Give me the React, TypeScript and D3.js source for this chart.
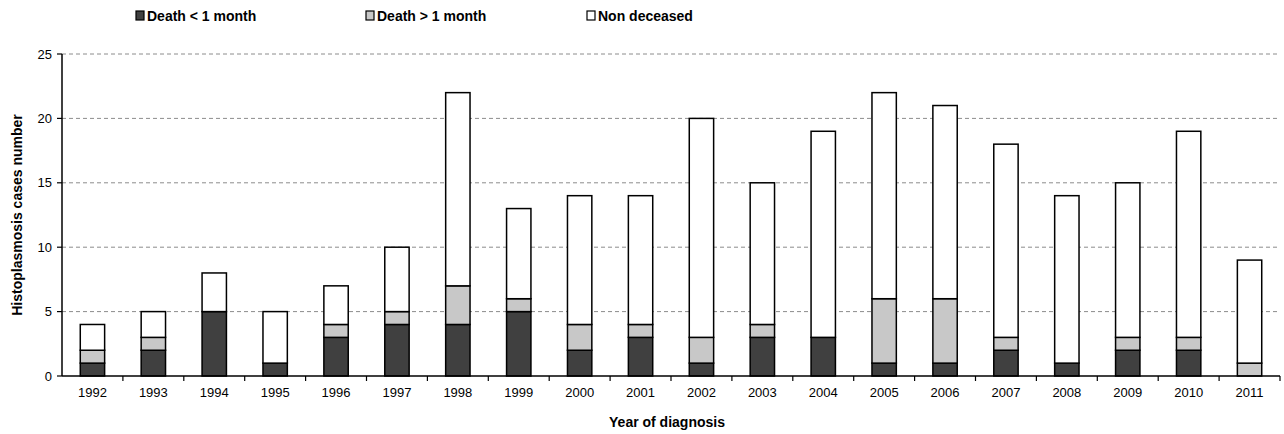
import React from "react";
import * as d3 from "d3";

const years = ["1992","1993","1994","1995","1996","1997","1998","1999","2000","2001","2002","2003","2004","2005","2006","2007","2008","2009","2010","2011"];
const deathLess1 = [1,2,5,1,3,4,4,5,2,3,1,3,3,1,1,2,1,2,2,0];
const deathMore1 = [1,1,0,0,1,1,3,1,2,1,2,1,0,5,5,1,0,1,1,1];
const nonDeceased = [2,2,3,4,3,5,15,7,10,10,17,11,16,16,15,15,13,12,16,8];
const yTicks = [0,5,10,15,20,25];
const seriesNames = ["Death < 1 month","Death > 1 month","Non deceased"];
const seriesColors = ["#404040","#c8c8c8","#ffffff"];

const W = 1284, H = 434;
const left = 62, right = 1280, top = 54, bottom = 376;

export default function App() {
  const x = d3.scaleBand().domain(years).range([left, right]).paddingInner(0.6).paddingOuter(0.3);
  const xb = d3.scaleBand().domain(years).range([left, right]);
  const y = d3.scaleLinear().domain([0, 25]).range([bottom, top]);
  const rows = years.map((yr, i) => ({ year: yr, a: deathLess1[i], b: deathMore1[i], c: nonDeceased[i] }));
  const stack = d3.stack<any>().keys(["a","b","c"])(rows);
  const font = "'Liberation Sans', Arial, sans-serif";
  const legendX = [136, 366, 587];
  return (
    <svg width={W} height={H} style={{ position: "absolute", left: 0, top: 0 }} fontFamily={font}>
      <rect width={W} height={H} fill="#fff" />
      {yTicks.filter(t => t > 0).map(t => (
        <line key={t} x1={left} x2={right} y1={y(t)} y2={y(t)} stroke="#8c8c8c" strokeWidth={1} strokeDasharray="4,3" />
      ))}
      {stack.map((s, si) => s.filter(d => d[1] - d[0] > 0).map((d, i) => (
        <rect key={si + "-" + d.data.year}
          x={x(d.data.year)!} width={x.bandwidth()}
          y={y(d[1])} height={y(d[0]) - y(d[1])}
          fill={seriesColors[si]} stroke="#000" strokeWidth={1.5} />
      )))}
      <line x1={left} x2={left} y1={top} y2={bottom} stroke="#000" strokeWidth={1.5} />
      <line x1={left} x2={right} y1={bottom} y2={bottom} stroke="#000" strokeWidth={1.5} />
      {yTicks.map(t => (
        <g key={t}>
          <line x1={left - 5} x2={left} y1={y(t)} y2={y(t)} stroke="#000" strokeWidth={1.2} />
          <text x={left - 10} y={y(t)} dy="0.35em" textAnchor="end" fontSize={13}>{t}</text>
        </g>
      ))}
      {years.map((yr, i) => (
        <g key={yr}>
          <line x1={xb(yr)! + xb.bandwidth()} x2={xb(yr)! + xb.bandwidth()} y1={bottom} y2={bottom + 5} stroke="#000" strokeWidth={1.2} />
          <text x={xb(yr)! + xb.bandwidth() / 2} y={397} textAnchor="middle" fontSize={13}>{yr}</text>
        </g>
      ))}
      {i0()}
      <text x={(left + right) / 2 - 4} y={427} textAnchor="middle" fontSize={14} fontWeight="bold">Year of diagnosis</text>
      <text transform={`translate(22,${(top + bottom) / 2}) rotate(-90)`} textAnchor="middle" fontSize={14} fontWeight="bold">Histoplasmosis cases number</text>
      {seriesNames.map((n, i) => (
        <g key={n}>
          <rect x={legendX[i]} y={11} width={8} height={9} fill={seriesColors[i]} stroke="#000" strokeWidth={1.2} />
          <text x={legendX[i] + 11} y={21} fontSize={14} fontWeight="bold">{n}</text>
        </g>
      ))}
    </svg>
  );
}

function i0() { return null; }
